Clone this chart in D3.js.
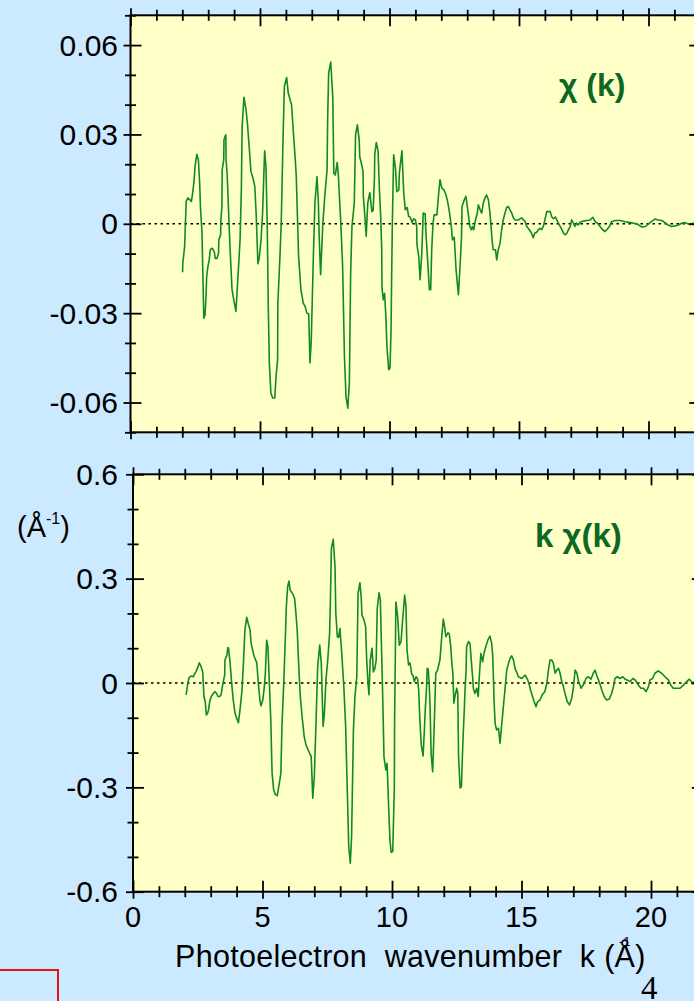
<!DOCTYPE html>
<html>
<head>
<meta charset="utf-8">
<script src="https://cdn.jsdelivr.net/npm/d3@7"></script>
<style>
  html, body { margin: 0; padding: 0; background: #cceaff; }
  svg { display: block; }
  text { font-family: "Liberation Sans", Arial, Helvetica, sans-serif; }
</style>
</head>
<body>
<svg id="chart" width="694" height="1001"></svg>
<script>
// ---------------- data ----------------
const kTop = [2.01,2.02,2.09,2.12,2.15,2.22,2.35,2.40,2.46,2.49,2.56,2.62,2.67,2.70,2.76,2.79,2.83,2.88,2.92,2.94,2.99,3.04,3.08,3.16,3.24,3.27,3.34,3.40,3.41,3.48,3.49,3.53,3.54,3.60,3.61,3.64,3.68,3.69,3.73,3.78,3.84,3.92,4.01,4.07,4.15,4.23,4.28,4.31,4.38,4.46,4.52,4.59,4.65,4.73,4.80,4.85,4.92,4.97,5.04,5.10,5.15,5.18,5.23,5.28,5.32,5.36,5.42,5.49,5.57,5.62,5.68,5.69,5.77,5.82,5.88,5.94,6.03,6.09,6.22,6.29,6.35,6.40,6.49,6.58,6.67,6.74,6.81,6.88,6.93,6.98,7.06,7.12,7.20,7.25,7.29,7.34,7.42,7.50,7.59,7.61,7.65,7.73,7.81,7.85,7.91,7.98,8.02,8.12,8.19,8.26,8.32,8.39,8.45,8.50,8.55,8.64,8.69,8.76,8.83,8.85,8.91,8.98,8.99,9.05,9.10,9.16,9.24,9.32,9.37,9.42,9.43,9.49,9.56,9.61,9.66,9.70,9.71,9.76,9.81,9.86,9.90,9.97,10.02,10.06,10.08,10.11,10.16,10.23,10.28,10.36,10.38,10.48,10.55,10.61,10.68,10.74,10.80,10.87,10.93,11.00,11.05,11.06,11.13,11.18,11.24,11.28,11.30,11.38,11.40,11.54,11.59,11.63,11.68,11.72,11.83,11.90,11.95,12.02,12.10,12.17,12.23,12.28,12.33,12.40,12.43,12.50,12.57,12.66,12.73,12.78,12.80,12.89,12.95,13.04,13.10,13.16,13.20,13.25,13.32,13.39,13.43,13.50,13.56,13.62,13.69,13.75,13.82,13.88,13.94,13.96,14.00,14.09,14.14,14.20,14.27,14.33,14.39,14.46,14.52,14.59,14.65,14.72,14.78,14.85,14.98,15.10,15.23,15.30,15.40,15.48,15.55,15.61,15.68,15.74,15.81,15.87,15.94,16.00,16.07,16.20,16.27,16.33,16.40,16.46,16.53,16.59,16.66,16.72,16.78,16.85,16.91,16.98,17.03,17.10,17.16,17.23,17.29,17.36,17.49,17.62,17.75,17.85,17.94,18.03,18.13,18.23,18.32,18.39,18.49,18.58,18.72,18.91,19.10,19.30,19.43,19.56,19.62,19.75,19.88,20.00,20.12,20.25,20.38,20.51,20.63,20.76,20.89,21.02,21.15,21.28,21.41,21.54,21.76];
const chiTop = [-0.0163,-0.0132,-0.0076,0.0000,0.0075,0.0087,0.0075,0.0103,0.0148,0.0192,0.0233,0.0215,0.0137,0.0058,-0.0031,-0.0154,-0.0317,-0.0305,-0.0233,-0.0177,-0.0143,-0.0121,-0.0087,-0.0082,-0.0096,-0.0116,-0.0116,-0.0098,-0.0054,-0.0037,0.0013,0.0058,0.0181,0.0215,0.0282,0.0291,0.0299,0.0215,0.0170,0.0058,-0.0076,-0.0221,-0.0266,-0.0294,-0.0177,-0.0054,0.0114,0.0327,0.0425,0.0383,0.0332,0.0248,0.0176,0.0153,0.0125,0.0036,-0.0134,-0.0115,-0.0054,0.0036,0.0170,0.0245,0.0192,-0.0009,-0.0277,-0.0467,-0.0568,-0.0585,-0.0585,-0.0512,-0.0456,-0.0266,-0.0110,0.0002,0.0248,0.0461,0.0491,0.0439,0.0399,0.0304,0.0232,0.0160,-0.0110,-0.0221,-0.0266,-0.0277,-0.0300,-0.0302,-0.0467,-0.0389,-0.0110,0.0069,0.0159,0.0081,-0.0054,-0.0171,-0.0009,0.0092,0.0181,0.0338,0.0506,0.0543,0.0427,0.0170,0.0164,0.0206,0.0170,0.0002,-0.0143,-0.0445,-0.0580,-0.0619,-0.0535,-0.0166,-0.0009,0.0069,0.0299,0.0332,0.0282,0.0226,0.0204,0.0176,0.0092,0.0025,-0.0042,0.0069,0.0105,0.0041,0.0045,0.0159,0.0232,0.0273,0.0243,0.0114,0.0025,-0.0087,-0.0216,-0.0255,-0.0233,-0.0311,-0.0412,-0.0490,-0.0484,-0.0356,-0.0199,0.0002,0.0232,0.0187,0.0108,0.0114,0.0170,0.0245,0.0103,0.0047,0.0055,0.0025,0.0022,0.0004,0.0017,0.0013,-0.0009,-0.0070,-0.0110,-0.0188,-0.0110,-0.0020,0.0036,0.0033,-0.0020,-0.0221,-0.0221,-0.0087,0.0000,0.0030,0.0030,0.0103,0.0148,0.0120,0.0114,0.0100,0.0080,0.0057,0.0030,-0.0020,-0.0054,-0.0045,-0.0154,-0.0238,-0.0131,-0.0047,0.0058,0.0081,0.0092,0.0036,-0.0009,-0.0020,-0.0009,-0.0020,0.0013,0.0036,0.0064,0.0047,0.0036,0.0070,0.0087,0.0097,0.0080,0.0036,-0.0031,-0.0054,-0.0087,-0.0087,-0.0121,-0.0087,-0.0064,-0.0020,0.0013,0.0036,0.0054,0.0058,0.0047,0.0036,0.0020,0.0013,0.0013,0.0020,0.0008,-0.0009,-0.0020,-0.0031,-0.0047,-0.0031,-0.0029,-0.0020,-0.0015,-0.0020,-0.0009,0.0013,0.0041,0.0041,0.0023,0.0017,0.0023,0.0013,0.0001,-0.0009,-0.0020,-0.0031,-0.0037,-0.0031,-0.0020,-0.0009,0.0013,0.0002,-0.0009,0.0002,-0.0004,0.0005,0.0009,0.0011,0.0013,0.0022,0.0007,0.0002,-0.0009,-0.0020,-0.0026,-0.0020,-0.0009,0.0008,0.0011,0.0011,0.0007,0.0004,0.0002,0.0000,-0.0004,-0.0011,-0.0009,0.0000,0.0008,0.0016,0.0013,0.0011,0.0004,-0.0004,-0.0009,-0.0007,-0.0004,0.0002,0.0004,-0.0001,0.0002];

const kBot = [2.05,2.08,2.12,2.17,2.24,2.33,2.37,2.43,2.51,2.56,2.63,2.69,2.74,2.79,2.83,2.88,2.92,2.96,3.02,3.10,3.17,3.23,3.28,3.35,3.40,3.44,3.50,3.54,3.55,3.63,3.66,3.69,3.75,3.81,3.87,3.94,4.00,4.07,4.13,4.21,4.27,4.32,4.39,4.45,4.52,4.56,4.62,4.68,4.78,4.84,4.90,4.94,5.01,5.07,5.11,5.16,5.21,5.26,5.32,5.37,5.43,5.49,5.57,5.65,5.71,5.75,5.82,5.87,5.92,5.97,6.02,6.07,6.17,6.24,6.29,6.34,6.40,6.46,6.53,6.61,6.68,6.76,6.85,6.88,6.94,7.00,7.07,7.13,7.21,7.27,7.34,7.39,7.45,7.52,7.59,7.62,7.66,7.73,7.80,7.83,7.89,7.94,7.99,8.06,8.14,8.21,8.27,8.33,8.39,8.44,8.51,8.57,8.64,8.69,8.76,8.81,8.84,8.92,8.98,9.02,9.07,9.11,9.16,9.23,9.28,9.34,9.39,9.43,9.50,9.55,9.60,9.65,9.69,9.76,9.81,9.87,9.92,9.97,10.03,10.09,10.10,10.13,10.15,10.22,10.28,10.35,10.41,10.49,10.54,10.58,10.64,10.69,10.73,10.76,10.82,10.86,10.93,10.99,11.03,11.07,11.13,11.20,11.25,11.29,11.33,11.36,11.40,11.44,11.47,11.51,11.57,11.62,11.66,11.69,11.76,11.85,11.92,11.98,12.03,12.08,12.16,12.21,12.27,12.31,12.35,12.39,12.43,12.50,12.54,12.57,12.63,12.68,12.73,12.79,12.82,12.86,12.88,12.95,13.01,13.08,13.12,13.14,13.20,13.27,13.33,13.37,13.43,13.50,13.55,13.62,13.70,13.78,13.85,13.89,13.91,13.94,13.98,14.04,14.11,14.17,14.24,14.30,14.36,14.43,14.50,14.56,14.62,14.69,14.75,14.82,14.88,15.01,15.14,15.24,15.30,15.35,15.41,15.48,15.56,15.62,15.71,15.80,15.90,15.98,16.04,16.10,16.17,16.23,16.30,16.36,16.43,16.49,16.55,16.62,16.68,16.77,16.85,16.94,17.00,17.07,17.14,17.20,17.30,17.39,17.49,17.58,17.68,17.77,17.84,17.90,17.97,18.04,18.10,18.19,18.29,18.39,18.48,18.55,18.61,18.70,18.80,18.91,19.00,19.10,19.19,19.30,19.40,19.46,19.51,19.61,19.71,19.81,19.90,19.96,20.06,20.15,20.28,20.41,20.54,20.67,20.76,20.86,20.99,21.12,21.25,21.38,21.48,21.61,21.67];
const kchiBot = [-0.034,-0.020,0.001,0.016,0.020,0.018,0.026,0.032,0.047,0.058,0.047,0.032,-0.039,-0.054,-0.092,-0.087,-0.076,-0.054,-0.039,-0.030,-0.025,-0.030,-0.039,-0.039,-0.034,-0.015,0.009,0.023,0.066,0.080,0.102,0.100,0.057,-0.001,-0.049,-0.087,-0.101,-0.114,-0.078,-0.020,0.066,0.152,0.189,0.171,0.152,0.114,0.095,0.076,0.058,-0.001,-0.049,-0.066,-0.049,-0.011,0.028,0.123,0.104,0.009,-0.106,-0.259,-0.307,-0.320,-0.324,-0.288,-0.259,-0.125,-0.001,0.104,0.219,0.276,0.293,0.267,0.256,0.243,0.200,0.152,0.047,-0.039,-0.097,-0.154,-0.178,-0.192,-0.207,-0.211,-0.331,-0.269,-0.106,0.047,0.109,0.057,-0.125,-0.087,0.009,0.066,0.143,0.229,0.387,0.413,0.334,0.200,0.133,0.131,0.157,0.085,-0.011,-0.125,-0.298,-0.470,-0.518,-0.441,-0.135,-0.039,0.018,0.258,0.288,0.248,0.195,0.181,0.162,0.071,0.004,-0.034,0.066,0.100,0.032,0.042,0.066,0.214,0.259,0.238,0.085,-0.068,-0.212,-0.250,-0.231,-0.355,-0.451,-0.487,-0.484,-0.298,-0.106,0.085,0.233,0.190,0.109,0.119,0.181,0.253,0.219,0.095,0.052,0.058,0.042,0.026,0.020,0.004,0.018,0.011,-0.020,-0.097,-0.178,-0.210,-0.135,-0.068,-0.020,0.042,0.040,-0.011,-0.068,-0.202,-0.255,-0.145,-0.049,0.028,0.037,0.066,0.133,0.184,0.162,0.133,0.144,0.142,0.104,0.057,0.028,-0.058,-0.039,-0.015,-0.030,-0.211,-0.302,-0.298,-0.183,-0.078,-0.020,0.037,0.104,0.119,0.114,0.047,0.010,-0.015,-0.030,-0.015,-0.039,0.018,0.085,0.061,0.085,0.104,0.123,0.135,0.114,0.076,0.028,-0.049,-0.116,-0.135,-0.130,-0.173,-0.116,-0.068,-0.020,0.037,0.057,0.071,0.078,0.066,0.042,0.030,0.018,0.013,0.023,0.009,-0.005,-0.020,-0.035,-0.052,-0.068,-0.054,-0.049,-0.034,-0.025,0.000,0.037,0.066,0.066,0.057,0.028,0.037,0.042,0.028,0.005,-0.011,-0.030,-0.054,-0.063,-0.044,-0.015,0.037,0.028,0.005,-0.015,-0.005,0.013,0.018,0.011,0.028,0.037,0.023,0.009,-0.006,-0.020,-0.039,-0.049,-0.046,-0.030,-0.011,0.013,0.018,0.013,0.018,0.011,0.008,0.004,0.013,0.008,0.000,-0.006,-0.015,-0.015,-0.025,-0.011,0.009,0.013,0.028,0.035,0.028,0.018,0.009,-0.006,-0.015,-0.015,-0.015,-0.006,0.004,0.011,0.000,0.004];

const xTickLabels = [0, 5, 10, 15, 20];
const yTicksTop = [-0.06, -0.03, 0, 0.03, 0.06];
const yTicksBot = [-0.6, -0.3, 0, 0.3, 0.6];
const titleTop = "χ (k)";
const titleBot = "k χ(k)";
const xLabel = "Photoelectron  wavenumber  k (Å)";
const pageNumber = "4";

// ---------------- drawing ----------------
const svg = d3.select("#chart");
const LINE = "#118a1f", TEXT_GREEN = "#0d6824", PLOT_BG = "#ffffc8";

svg.append("rect").attr("width", 694).attr("height", 1001).attr("fill", "#cceaff");

function panel(opts) {
  const { x, y, kArr, vArr, yMajor, yMinor, xMajor, xMinor, id } = opts;
  const [x0, x1] = x.range();
  const [yb, yt] = y.range();
  const g = svg.append("g");
  g.append("rect").attr("x", x0).attr("y", yt).attr("width", x1 - x0).attr("height", yb - yt).attr("fill", PLOT_BG);

  g.append("clipPath").attr("id", id).append("rect")
    .attr("x", x0).attr("y", yt).attr("width", x1 - x0).attr("height", yb - yt);

  // zero dotted line
  g.append("line").attr("x1", x0).attr("x2", x1).attr("y1", y(0)).attr("y2", y(0))
    .attr("stroke", "#000").attr("stroke-width", 1.6).attr("stroke-dasharray", "2.5,3.5");

  const pts = kArr.map((k, i) => [k, vArr[i]]);
  g.append("path").datum(pts)
    .attr("clip-path", `url(#${id})`)
    .attr("fill", "none").attr("stroke", LINE).attr("stroke-width", 1.6)
    .attr("stroke-linejoin", "round")
    .attr("d", d3.line().x(d => x(d[0])).y(d => y(d[1])));

  // ticks (crossing the frame)
  function ticks(axisFn, scale, values, outLen, inLen, transform) {
    g.append("g").attr("transform", transform)
      .call(axisFn(scale).tickValues(values).tickSize(outLen).tickFormat(""))
      .call(s => s.select(".domain").remove())
      .call(s => s.selectAll("line").attr("stroke-width", 1.8));
    g.append("g").attr("transform", transform)
      .call(axisFn(scale).tickValues(values).tickSize(-inLen).tickFormat(""))
      .call(s => s.select(".domain").remove())
      .call(s => s.selectAll("line").attr("stroke-width", 1.8));
  }
  ticks(d3.axisLeft, y, yMajor, 7, 11, `translate(${x0},0)`);
  ticks(d3.axisLeft, y, yMinor, 5.5, 5.5, `translate(${x0},0)`);
  ticks(d3.axisRight, y, yMajor, 7, 11, `translate(${x1},0)`);
  ticks(d3.axisRight, y, yMinor, 5.5, 5.5, `translate(${x1},0)`);
  ticks(d3.axisTop, x, xMajor, 7, 11, `translate(0,${yt})`);
  ticks(d3.axisTop, x, xMinor, 5.5, 5.5, `translate(0,${yt})`);
  ticks(d3.axisBottom, x, xMajor, 7, 11, `translate(0,${yb})`);
  ticks(d3.axisBottom, x, xMinor, 5.5, 5.5, `translate(0,${yb})`);

  // frame
  g.append("rect").attr("x", x0).attr("y", yt).attr("width", x1 - x0).attr("height", yb - yt)
    .attr("fill", "none").attr("stroke", "#000").attr("stroke-width", 2);

  // y tick labels
  g.selectAll("text.ylab").data(yMajor).join("text")
    .attr("class", "ylab")
    .attr("x", 118).attr("y", d => y(d) + 10.5)
    .attr("text-anchor", "end").attr("font-size", 30).attr("fill", "#000")
    .text(d => String(d));
  return g;
}

const xTop = d3.scaleLinear([0, 22], [130.5, 700.3]);
const yTop = d3.scaleLinear([-0.07, 0.07], [432.3, 15.3]);
const xBot = d3.scaleLinear([0, 22], [133, 702.8]);
const yBot = d3.scaleLinear([-0.6, 0.6], [891.7, 474.3]);

const xMinor = d3.range(0, 23).filter(v => v % 5 !== 0);
const yMinorTop = d3.range(-7, 8).filter(v => v % 3 !== 0).map(v => v / 100);
const yMinorBot = d3.range(-6, 7).filter(v => v % 3 !== 0).map(v => v / 10);

panel({ x: xTop, y: yTop, kArr: kTop, vArr: chiTop, yMajor: yTicksTop, yMinor: yMinorTop,
        xMajor: xTickLabels, xMinor, id: "clipTop" });
panel({ x: xBot, y: yBot, kArr: kBot, vArr: kchiBot, yMajor: yTicksBot, yMinor: yMinorBot,
        xMajor: xTickLabels, xMinor, id: "clipBot" });

// x tick labels
svg.selectAll("text.xlab").data(xTickLabels).join("text")
  .attr("class", "xlab")
  .attr("x", d => xBot(d)).attr("y", 927)
  .attr("text-anchor", "middle").attr("font-size", 29).attr("fill", "#000")
  .text(d => String(d));

// x axis label
svg.append("text").attr("x", 175).attr("y", 967)
  .attr("font-size", 30.5).attr("letter-spacing", 0.3).attr("fill", "#000").style("white-space", "pre")
  .text(xLabel);
svg.append("text").attr("x", 619).attr("y", 946)
  .attr("font-size", 13).attr("fill", "#000").text("-1");

// y unit label (Å^-1)
const unit = svg.append("text").attr("x", 17).attr("y", 537).attr("font-size", 29).attr("fill", "#000");
unit.append("tspan").text("(Å");
unit.append("tspan").attr("font-size", 16).attr("dy", -13).text("-1");
unit.append("tspan").attr("dy", 13).text(")");

// panel titles
svg.append("text").attr("x", 559).attr("y", 96).attr("font-size", 32).attr("font-weight", "bold")
  .attr("fill", TEXT_GREEN).text(titleTop);
svg.append("text").attr("x", 535).attr("y", 547).attr("font-size", 33).attr("font-weight", "bold")
  .attr("fill", TEXT_GREEN).text(titleBot);

// page number and red box
svg.append("text").attr("x", 641).attr("y", 999)
  .style("font-family", "'Liberation Serif', 'DejaVu Serif', serif")
  .attr("font-size", 33).attr("fill", "#000").text(pageNumber);
svg.append("path").attr("d", "M-2,970 L58,970 L58,1003")
  .attr("fill", "none").attr("stroke", "#e8121a").attr("stroke-width", 2);
</script>
</body>
</html>
